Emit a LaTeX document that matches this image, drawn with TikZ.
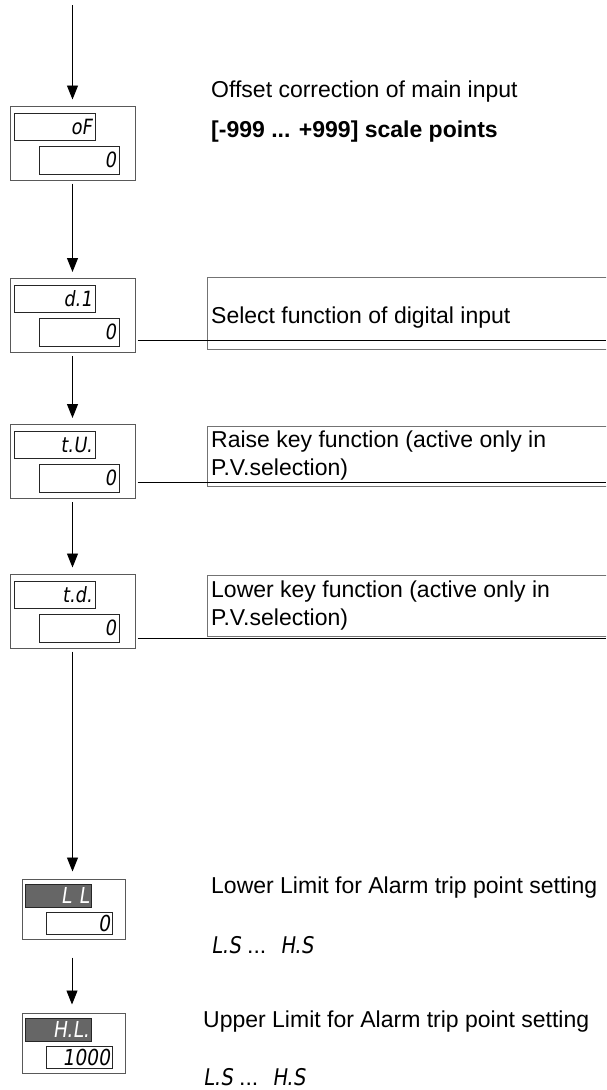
\documentclass[tikz,border=0pt]{standalone}
\usepackage{fontspec}
\setmainfont{Liberation Sans}
\newfontfamily\segfont[FakeSlant=0.15,FakeStretch=0.85]{DejaVu Sans}
\usetikzlibrary{arrows.meta}
\begin{document}
\begin{tikzpicture}[x=1pt,y=-1pt,
  outer/.style={draw=black!65, line width=1pt, fill=white, inner sep=0pt,
    minimum width=125pt, minimum height=74pt},
  outersm/.style={outer, minimum width=103pt, minimum height=60pt},
  disp/.style={draw=black!85, line width=0.9pt, inner xsep=3pt, inner ysep=0pt,
    align=right, font=\segfont\fontsize{21}{21}\selectfont},
  dtop/.style={disp, text width=75pt, minimum height=27pt},
  dbot/.style={disp, text width=74pt, minimum height=28pt},
  dtopsm/.style={disp, inner xsep=2pt, text width=62pt, minimum height=23pt,
    fill=black!60, text=white!92, font=\segfont\fontsize{22}{22}\selectfont},
  dbotsm/.style={disp, inner xsep=2pt, text width=62pt, minimum height=22pt,
    font=\segfont\fontsize{22}{22}\selectfont},
  txtbox/.style={draw=black!55, line width=1pt, inner sep=0pt, minimum width=430pt},
  txt/.style={inner sep=0pt, anchor=base west, font=\fontsize{23}{28}\selectfont},
  link/.style={draw=black, line width=0.9pt},
  arr/.style={draw=black, line width=0.9pt, -{Triangle[width=11pt,length=14pt]}}
]
\newcommand\segtxt[1]{{\segfont\fontsize{23}{23}\selectfont #1}}
\useasboundingbox (0,0) rectangle (606,1090);
\clip (0,0) rectangle (606,1090);

% ---- parameter boxes ----
\node[outer] (oF) at (72.5,143) {};
\node[dtop] (oFa) at (54.5,126.5) {oF};
\node[dbot] (oFb) at (79,160) {0};

\node[outer] (d1) at (72.5,315.5) {};
\node[dtop] (d1a) at (54.5,298.5) {d.1};
\node[dbot] (d1b) at (79,332) {0};

\node[outer] (tU) at (72.5,461.5) {};
\node[dtop] (tUa) at (54.5,444.5) {t.U.};
\node[dbot] (tUb) at (79,478) {0};

\node[outer] (td) at (72.5,611) {};
\node[dtop] (tda) at (54.5,594.5) {t.d.};
\node[dbot] (tdb) at (79,628) {0};

\node[outersm] (LL) at (73.5,909) {};
\node[dtopsm] (LLa) at (58,895.5) {L\,\,L};
\node[dbotsm] (LLb) at (79,923) {0};

\node[outersm] (HL) at (73.5,1043) {};
\node[dtopsm] (HLa) at (58,1029.5) {H.L.};
\node[dbotsm] (HLb) at (79,1057.5) {1000};

% ---- flow arrows ----
\coordinate (entry) at (72.5,5);
\draw[arr, shorten >=6pt] (entry) -- (oF.north);
\draw[arr, shorten <=3pt, shorten >=6pt] (oF.south) -- (d1.north);
\draw[arr, shorten <=3pt, shorten >=6pt] (d1.south) -- (tU.north);
\draw[arr, shorten <=3pt, shorten >=6pt] (tU.south) -- (td.north);
\draw[arr, shorten <=3pt, shorten >=7pt] (td.south) -- (td.south |- LL.north);
\draw[arr, shorten <=18pt, shorten >=8pt] ([xshift=-1.5pt]LL.south) -- ([xshift=-1.5pt]HL.north);

% ---- description boxes ----
\node[txtbox, minimum height=72pt, anchor=north west] (sel) at (207,277) {};
\node[txtbox, minimum height=60pt, anchor=north west] (rai) at (207,426) {};
\node[txtbox, minimum height=61pt, anchor=north west] (low) at (207,575) {};

\coordinate (e1) at (606,340);
\coordinate (e2) at (606,482);
\coordinate (e3) at (606,638);
\draw[link] ([xshift=2pt]d1.east |- e1) -- (e1);
\draw[link] ([xshift=2pt]tU.east |- e2) -- (e2);
\draw[link] ([xshift=2pt]td.east |- e3) -- (e3);

% ---- texts ----
\node[txt] (t1) at (211,97) {Offset correction of main input};
\node[txt, font=\fontsize{23}{28}\selectfont\bfseries] (t2) at (211,137) {[-999 ... +999] scale points};
\node[txt] (t3) at (211,323) {Select function of digital input};
\node[txt] (t4) at (211,447) {Raise key function (active only in};
\node[txt] (t5) at (211,475) {P.V.selection)};
\node[txt] (t6) at (211,597) {Lower key function (active only in};
\node[txt] (t7) at (211,625) {P.V.selection)};
\node[txt] (t8) at (211,893) {Lower Limit for Alarm trip point setting};
\node[txt] (t9) at (211,953) {\segtxt{L.S} ...\hspace{14pt}\segtxt{H.S}};
\node[txt] (t10) at (203,1027) {Upper Limit for Alarm trip point setting};
\node[txt] (t11) at (203,1085) {\segtxt{L.S} ...\hspace{14pt}\segtxt{H.S}};
\end{tikzpicture}
\end{document}
